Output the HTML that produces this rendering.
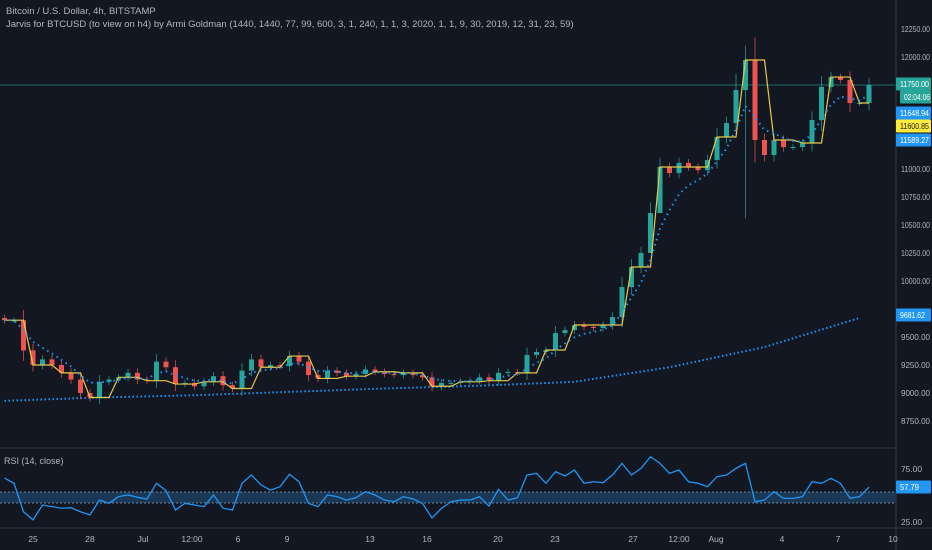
<!DOCTYPE html>
<html><head><meta charset="utf-8"><style>
html,body{margin:0;padding:0;background:#131722;}
svg{display:block;font-family:"Liberation Sans",sans-serif;}
</style></head><body>
<svg id="chart" width="932" height="550" viewBox="0 0 932 550" xmlns="http://www.w3.org/2000/svg">
<rect x="0" y="0" width="932" height="550" fill="#131722"/>
<g id="main"></g>
<g id="rsi"></g>
<g id="axes"></g>
<text x="6" y="14" fill="#b2b5be" font-size="9.5">Bitcoin / U.S. Dollar, 4h, BITSTAMP</text>
<text x="6" y="27" fill="#b2b5be" font-size="9.5">Jarvis for BTCUSD (to view on h4) by Armi Goldman (1440, 1440, 77, 99, 600, 3, 1, 240, 1, 1, 3, 2020, 1, 1, 9, 30, 2019, 12, 31, 23, 59)</text>
<text x="4" y="464" fill="#b2b5be" font-size="9">RSI (14, close)</text>
</svg>
<script>
const closes=[9650,9650,9380,9250,9300,9250,9180,9120,9000,8960,
9100,9120,9140,9180,9120,9110,9280,9230,9080,9090,
9060,9100,9150,9070,9040,9200,9300,9230,9250,9240,
9330,9280,9160,9130,9200,9180,9150,9170,9210,9190,
9170,9160,9180,9160,9140,9060,9090,9090,9100,9110,
9140,9110,9180,9188,9180,9340,9366,9384,9535,9562,
9607,9590,9580,9607,9678,9946,10125,10250,10607,11018,
10964,11054,11018,10990,11080,11286,11410,11705,11973,11259,
11125,11259,11196,11196,11232,11437,11732,11821,11795,11589,
11589,11750];
const rsiValues=[66.5,61.5,34.7,27,41,39.5,38,38.5,34.7,31.6,
45.7,42.6,48.9,50.5,48.3,46.7,61.5,54.5,36.3,42.6,
41,39.5,50.5,38,36.3,61.5,69.3,60,55,58.3,
70,63,42.6,39.5,50.5,48.9,45.7,47.9,53.6,50.5,
45.7,44.1,48.9,46.7,42.6,28.8,37.9,44.1,45.7,45.7,
48.9,40,55.8,45.7,47.9,69.3,70.9,61.5,72.5,68.4,
74,61.5,63,62.1,69.3,80.3,69.3,75.6,86.6,80.3,
70.9,74,63,61.5,58.3,67.7,69.3,75.6,80.3,44.1,
45.7,53.6,47.3,47.3,48.9,63,61.5,66.2,61.5,47.3,
48.9,57.8];
const slowIdx=[0,10,20,30,40,50,60,70,80,90];
const slowMA=[8930,8960,8980,9010,9040,9065,9100,9230,9410,9670];
const spikeIdx=[77,78,68,69];
const spikeHigh=[11850,12100,10700,11100];
const spikeLow=[11350,10560,10250,10700];
const priceTicks=[12250,12000,11000,10750,10500,10250,10000,9500,9250,9000,8750];
const rsiTicks=[75,25];
const dateLabels=["25","28","Jul","12:00","6","9","13","16","20","23","27","12:00","Aug","4","7","10"];
const dateX=[33,90,143,192,238,287,370,427,498,555,633,679,716,782,838,893];

const NS="http://www.w3.org/2000/svg";
function mk(tag,attrs,parent){const e=document.createElementNS(NS,tag);for(const k in attrs)e.setAttribute(k,attrs[k]);parent.appendChild(e);return e;}
const xOf=i=>4.5+i*9.5;
const yP=p=>29+(12250-p)*0.112;
const yR=r=>469+(75-r)*1.06;
const main=document.getElementById('main'),rsiG=document.getElementById('rsi'),axes=document.getElementById('axes');

let pl=mk('line',{x1:0,x2:896,y1:yP(closes[closes.length-1]),y2:yP(closes[closes.length-1]),stroke:'#26a69a','stroke-width':0.7,opacity:0.8},main);



let sp=slowIdx.map((ix,k)=>xOf(ix)+','+yP(slowMA[k])).join(' ');
let sl=mk('polyline',{points:sp,fill:'none',stroke:'#2196f3','stroke-width':2,'stroke-dasharray':'1.5 2.5'},main);



for(let i=0;i<closes.length;i++){
  const c=closes[i],o=i>0?closes[i-1]:c+20;
  let hi=Math.max(o,c)+Math.abs(c-o)*0.25+25,lo=Math.min(o,c)-Math.abs(c-o)*0.25-25;
  const s=spikeIdx.indexOf(i);if(s>=0){hi=spikeHigh[s];lo=spikeLow[s];}
  const col=c>=o?'#26a69a':'#ef5350';
  const g=mk('g',{},main);
  
  
  mk('line',{x1:xOf(i),x2:xOf(i),y1:yP(hi),y2:yP(lo),stroke:col,'stroke-width':1,opacity:0.7},g);
  const yt=yP(Math.max(o,c)),yb=yP(Math.min(o,c));
  mk('rect',{x:xOf(i)-2.5,y:yt,width:5,height:Math.max(1,yb-yt),fill:col},g);
}

let yp=closes.map((c,i)=>xOf(i)+','+yP(closes[Math.min(closes.length-1,Math.floor(i/3)*3)])).join(' ');
let yl=mk('polyline',{points:yp,fill:'none',stroke:'#e6c84a','stroke-width':1.2},main);



let ema=[],a=2/6;closes.forEach((c,i)=>ema.push(i?ema[i-1]+a*(c-ema[i-1]):c));
let fl=mk('polyline',{points:ema.map((v,i)=>xOf(i)+','+yP(v)).join(' '),fill:'none',stroke:'#2196f3','stroke-width':2,'stroke-dasharray':'1.5 4'},main);



let band=mk('rect',{x:0,y:492,width:896,height:11,fill:'#1e4a72',opacity:0.65},rsiG);


[492,503].forEach(y=>{let l=mk('line',{x1:0,x2:896,y1:y,y2:y,stroke:'#8aa4c0','stroke-width':0.7,'stroke-dasharray':'2 2'},rsiG);

});
let rl=mk('polyline',{points:rsiValues.map((v,i)=>xOf(i)+','+yR(v)).join(' '),fill:'none',stroke:'#2196f3','stroke-width':1.3},rsiG);



[[0,448,896,448],[0,528,932,528],[896,0,896,550]].forEach(s=>{let l=mk('line',{x1:s[0],y1:s[1],x2:s[2],y2:s[3],stroke:'#2a2e39','stroke-width':1.5},axes);

});

priceTicks.forEach(p=>{let t=mk('text',{x:901,y:yP(p)+3,fill:'#b2b5be','font-size':8.5,textLength:29,lengthAdjust:'spacingAndGlyphs'},axes);t.textContent=p.toFixed(2);

});
rsiTicks.forEach(r=>{let t=mk('text',{x:901,y:yR(r)+3,fill:'#b2b5be','font-size':8.5,textLength:21,lengthAdjust:'spacingAndGlyphs'},axes);t.textContent=r.toFixed(2);

});
dateLabels.forEach((d,k)=>{let t=mk('text',{x:dateX[k],y:542,fill:'#b2b5be','font-size':8.5,'text-anchor':'middle'},axes);t.textContent=d;

});

const tags=[[84,'11750.00','#26a69a','#fff',896,29],[97,'02:04:06','#26a69a','#fff',900,26],[113,'11648.94','#2196f3','#fff',896,29],[126,'11600.85','#ffeb3b','#131722',896,29],[140,'11589.27','#2196f3','#fff',896,29],[315,'9681.62','#2196f3','#fff',896,25],[487,'57.79','#2196f3','#fff',896,19]];
tags.forEach(tg=>{const g=mk('g',{},axes);


mk('rect',{x:tg[4],y:tg[0]-6.5,width:932-tg[4]-1,height:13,fill:tg[2],rx:1},g);
const t=mk('text',{x:tg[4]+4,y:tg[0]+3,fill:tg[3],'font-size':8.5,textLength:tg[5],lengthAdjust:'spacingAndGlyphs'},g);t.textContent=tg[1];});
</script>
</body></html>
